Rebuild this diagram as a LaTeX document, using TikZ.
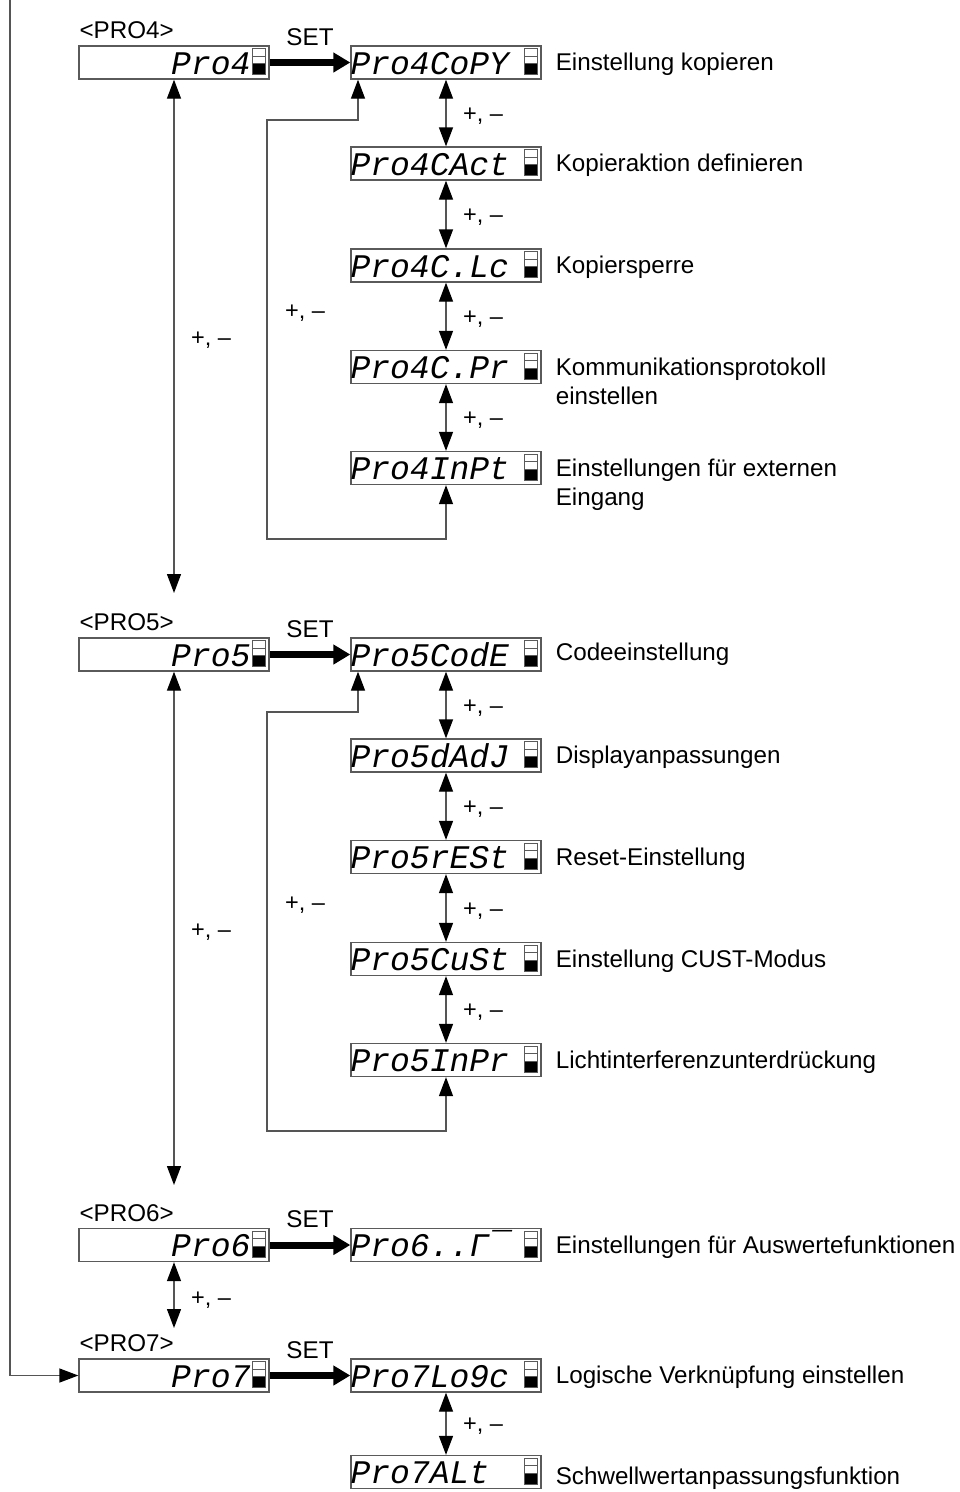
\documentclass[tikz,border=0pt]{standalone}
\usepackage{fontspec}
\setmainfont{Liberation Sans}
\newfontfamily\lcdfont{Liberation Mono}
\usetikzlibrary{arrows.meta,calc}
\definecolor{boxgray}{HTML}{5A5A5A}
\definecolor{linegray}{HTML}{555555}
\newcommand\lcdbar[1]{%
  \draw[boxgray,line width=0.8pt,fill=white] ($(#1.north east)+(-17,3.5)$) rectangle ($(#1.north east)+(-4,11)$);
  \draw[boxgray,line width=0.8pt,fill=white] ($(#1.north east)+(-17,11)$) rectangle ($(#1.north east)+(-4,18.5)$);
  \draw[boxgray,line width=0.8pt,fill=black] ($(#1.north east)+(-17,18.5)$) rectangle ($(#1.north east)+(-4,29.5)$);}
\begin{document}
\begin{tikzpicture}[x=1pt,y=-1pt,
  lcd/.style={draw=boxgray, line width=1.3pt, minimum width=190pt, minimum height=33pt, inner sep=0pt},
  lcdtxt/.style={inner sep=0pt, text depth=0pt, font=\lcdfont\itshape\fontsize{33}{33}\selectfont},
  lbl/.style={inner sep=0pt, anchor=base west, font=\fontsize{24.2}{28}\selectfont},
  pmlbl/.style={inner sep=0pt, anchor=base west, font=\fontsize{23.5}{26}\selectfont},
  link/.style={draw=linegray, line width=1.3pt, -{Triangle[length=19pt,width=14pt,color=black]}},
  dlink/.style={draw=linegray, line width=1.3pt, {Triangle[length=19pt,width=14pt,color=black]}-{Triangle[length=19pt,width=14pt,color=black]}},
  setarrow/.style={draw=black, line width=7pt, -{Triangle[length=17pt,width=19pt]}}]
\useasboundingbox (0,0) rectangle (960,1492);

% ---------- left column main boxes
\node[lcd] (p4) at (174,62.5) {};
\node[lcd] (p5) at (174,654.5) {};
\node[lcd] (p6) at (174,1245) {};
\node[lcd] (p7) at (174,1375.5) {};
\foreach \n/\t in {p4/Pro4,p5/Pro5,p6/Pro6,p7/Pro7}{
  \node[lcdtxt,anchor=base east] (\n t) at ($(\n.south east)+(-19,-5.5)$) {\t};
  \lcdbar{\n}
}
\node[lbl] (h4) at ($(p4.north west)+(1,-6.5)$) {<PRO4>};
\node[lbl] (h5) at ($(p5.north west)+(1,-6.5)$) {<PRO5>};
\node[lbl] (h6) at ($(p6.north west)+(1,-6.5)$) {<PRO6>};
\node[lbl] (h7) at ($(p7.north west)+(1,-6.5)$) {<PRO7>};

% ---------- right column boxes
\node[lcd] (p4a) at (446,62.5) {};
\node[lcd] (p4b) at (446,163.5) {};
\node[lcd] (p4c) at (446,265.5) {};
\node[lcd] (p4d) at (446,367) {};
\node[lcd] (p4e) at (446,468) {};
\node[lcd] (p5a) at (446,654.5) {};
\node[lcd] (p5b) at (446,755.5) {};
\node[lcd] (p5c) at (446,857) {};
\node[lcd] (p5d) at (446,959) {};
\node[lcd] (p5e) at (446,1060) {};
\node[lcd] (p6a) at (446,1245) {};
\node[lcd] (p7a) at (446,1375.5) {};
\node[lcd] (p7b) at (446,1472) {};
\foreach \n/\t in {p4a/Pro4CoPY,p4b/Pro4CAct,p4c/Pro4C.Lc,p4d/Pro4C.Pr,p4e/Pro4InPt,
  p5a/Pro5CodE,p5b/Pro5dAdJ,p5c/Pro5rESt,p5d/Pro5CuSt,p5e/Pro5InPr,
  p6a/Pro6..Γ¯,p7a/Pro7Lo9c,p7b/Pro7ALt}{
  \node[lcdtxt,anchor=base west] (\n t) at ($(\n.south west)+(0,-5.5)$) {\t};
  \lcdbar{\n}
}

% ---------- description labels
\node[lbl] (d4a) at ($(p4a.east)+(14,8.4)$) {Einstellung kopieren};
\node[lbl] (d4b) at ($(p4b.east)+(14,8.4)$) {Kopieraktion definieren};
\node[lbl] (d4c) at ($(p4c.east)+(14,8.4)$) {Kopiersperre};
\node[lbl] (d4d) at ($(p4d.east)+(14,8.4)$) {Kommunikationsprotokoll};
\node[lbl] (d4d2) at ($(p4d.east)+(14,37.9)$) {einstellen};
\node[lbl] (d4e) at ($(p4e.east)+(14,8.4)$) {Einstellungen für externen};
\node[lbl] (d4e2) at ($(p4e.east)+(14,37.9)$) {Eingang};
\node[lbl] (d5a) at ($(p5a.east)+(14,6.4)$) {Codeeinstellung};
\node[lbl] (d5b) at ($(p5b.east)+(14,8.4)$) {Displayanpassungen};
\node[lbl] (d5c) at ($(p5c.east)+(14,8.4)$) {Reset-Einstellung};
\node[lbl] (d5d) at ($(p5d.east)+(14,8.4)$) {Einstellung CUST-Modus};
\node[lbl] (d5e) at ($(p5e.east)+(14,8.4)$) {Lichtinterferenzunterdrückung};
\node[lbl] (d6a) at ($(p6a.east)+(14,8.4)$) {Einstellungen für Auswertefunktionen};
\node[lbl] (d7a) at ($(p7a.east)+(14,8.4)$) {Logische Verknüpfung einstellen};
\node[lbl] (d7b) at ($(p7b.east)+(14,12.9)$) {Schwellwertanpassungsfunktion};

% ---------- SET arrows
\foreach \a/\b in {p4/p4a,p5/p5a,p6/p6a,p7/p7a}{
  \draw[setarrow] (\a.east) -- (\b.west);
  \node[lbl,anchor=base] (s\a) at ($(\a.north east)!0.5!(\b.north west)$) {SET};
}

% ---------- +/- arrows in sub columns
\foreach \a/\b in {p4a/p4b,p4b/p4c,p4c/p4d,p4d/p4e,p5a/p5b,p5b/p5c,p5c/p5d,p5d/p5e,p7a/p7b}{
  \draw[dlink] (\a.south) -- (\b.north);
  \node[pmlbl] (m\a) at ($(\a.south)!0.5!(\b.north)+(17,8)$) {+, –};
}

% ---------- main vertical arrows
\coordinate (e4) at (174,593);
\coordinate (e5) at (174,1185);
\coordinate (e6) at (174,1328);
\draw[dlink] (p4.south) -- (e4);
\draw[dlink] (p5.south) -- (e5);
\draw[dlink] (p6.south) -- (e6);
\node[pmlbl] (m4) at (191,345) {+, –};
\node[pmlbl] (m5) at (191,937) {+, –};
\node[pmlbl] (m6) at (191,1305) {+, –};

% ---------- return loops
\coordinate (l4bl) at (267,539);
\coordinate (l4tr) at (358,120);
\draw[dlink] (p4e.south) |- (l4bl) |- (l4tr) -- (l4tr |- p4a.south);
\node[pmlbl] (n4) at (285,318) {+, –};
\coordinate (l5bl) at (267,1131);
\coordinate (l5tr) at (358,712);
\draw[dlink] (p5e.south) |- (l5bl) |- (l5tr) -- (l5tr |- p5a.south);
\node[pmlbl] (n5) at (285,910) {+, –};

% ---------- left line into PRO7
\coordinate (top) at (10,0);
\draw[link] (top) |- (p7.west);
\end{tikzpicture}
\end{document}
